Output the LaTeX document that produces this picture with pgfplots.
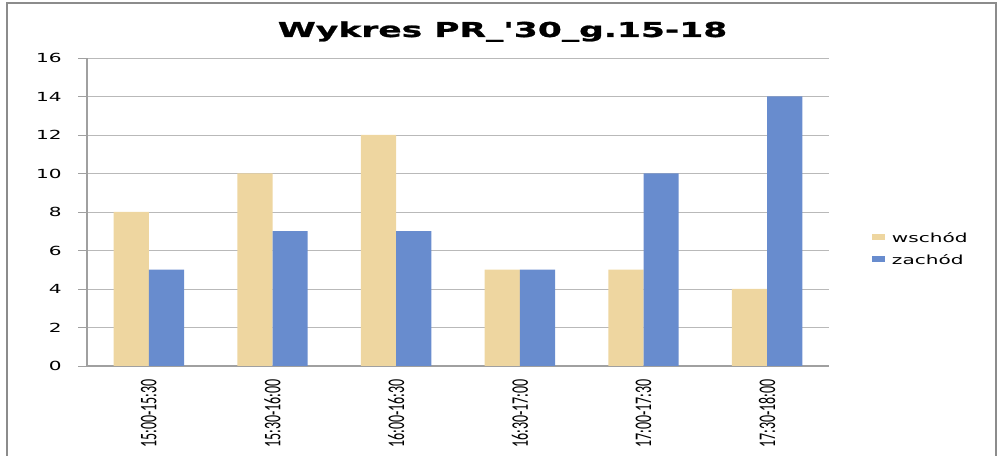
\documentclass[border=0pt]{standalone}
\usepackage{pgfplots}
\pgfplotsset{compat=1.18}
\usepackage{fontspec}
\setmainfont{DejaVu Sans}
\newfontfamily\tickfont[FakeStretch=1.6]{DejaVu Sans}
\newfontfamily\titlefont[FakeStretch=1.68, FakeBold=1.2]{DejaVu Sans Bold}
\newfontfamily\catfont{Carlito}
\definecolor{tanbar}{RGB}{238,214,160}
\definecolor{bluebar}{RGB}{104,140,206}
\definecolor{gridgray}{RGB}{185,185,185}
\definecolor{axgray}{RGB}{160,160,160}
\definecolor{bordergray}{RGB}{140,140,140}
\newcommand{\xl}[1]{\scalebox{1}[1.7]{\catfont\fontsize{10.5}{12}\selectfont #1}}
\begin{document}
\begin{tikzpicture}
\useasboundingbox (0,0) rectangle (749.25pt,342pt);
\draw[bordergray, line width=1.1pt] (5.25pt,-2pt) -- (5.25pt,339.75pt) -- (747pt,339.75pt) -- (747pt,-2pt);
\node[anchor=base, inner sep=0pt] at (376.9pt,314.25pt) {\titlefont\fontsize{15.4}{18}\selectfont Wykres PR\_'30\_g.15-18};
\begin{axis}[
  at={(65.25pt,67.5pt)}, anchor=south west,
  scale only axis, width=556.5pt, height=231pt,
  ybar=0pt, bar width=0.285,
  xmin=-0.5, xmax=5.5, ymin=0, ymax=16,
  ytick={0,2,...,16},
  yticklabels={0,2,4,6,8,10,12,14,16},
  xtick={0,...,5},
  xticklabels={\xl{15:00-15:30},\xl{15:30-16:00},\xl{16:00-16:30},\xl{16:30-17:00},\xl{17:00-17:30},\xl{17:30-18:00}},
  xticklabel style={rotate=90, anchor=east, inner sep=0pt},
  xticklabel shift=3pt,
  xtick style={draw=none},
  axis x line*=bottom, axis y line*=left,
  axis line style={axgray, line width=0.8pt, -},
  ytick style={axgray, line width=0.6pt},
  tick align=outside, major tick length=6.75pt,
  ymajorgrids, grid style={gridgray, line width=0.6pt},
  yticklabel style={font=\tickfont\fontsize{9.4}{11}\selectfont, anchor=east, inner sep=0pt},
  yticklabel shift=12pt,
  legend style={at={(1.058,0.377)}, anchor=west, draw=none, fill=none,
    font=\tickfont\fontsize{9.4}{11}\selectfont, row sep=7.5pt, inner sep=0pt,
    nodes={inner sep=0pt, anchor=west}},
  legend cell align=left,
  legend image code/.code={\fill[#1] (0pt,-1pt) rectangle (9.75pt,3.5pt);},
]
\addplot[fill=tanbar, draw=none] coordinates {(0,8) (1,10) (2,12) (3,5) (4,5) (5,4)};
\addplot[fill=bluebar, draw=none] coordinates {(0,5) (1,7) (2,7) (3,5) (4,10) (5,14)};
\legend{\hspace{5pt}wschód,\hspace{5pt}zachód}
\end{axis}
\end{tikzpicture}
\end{document}
